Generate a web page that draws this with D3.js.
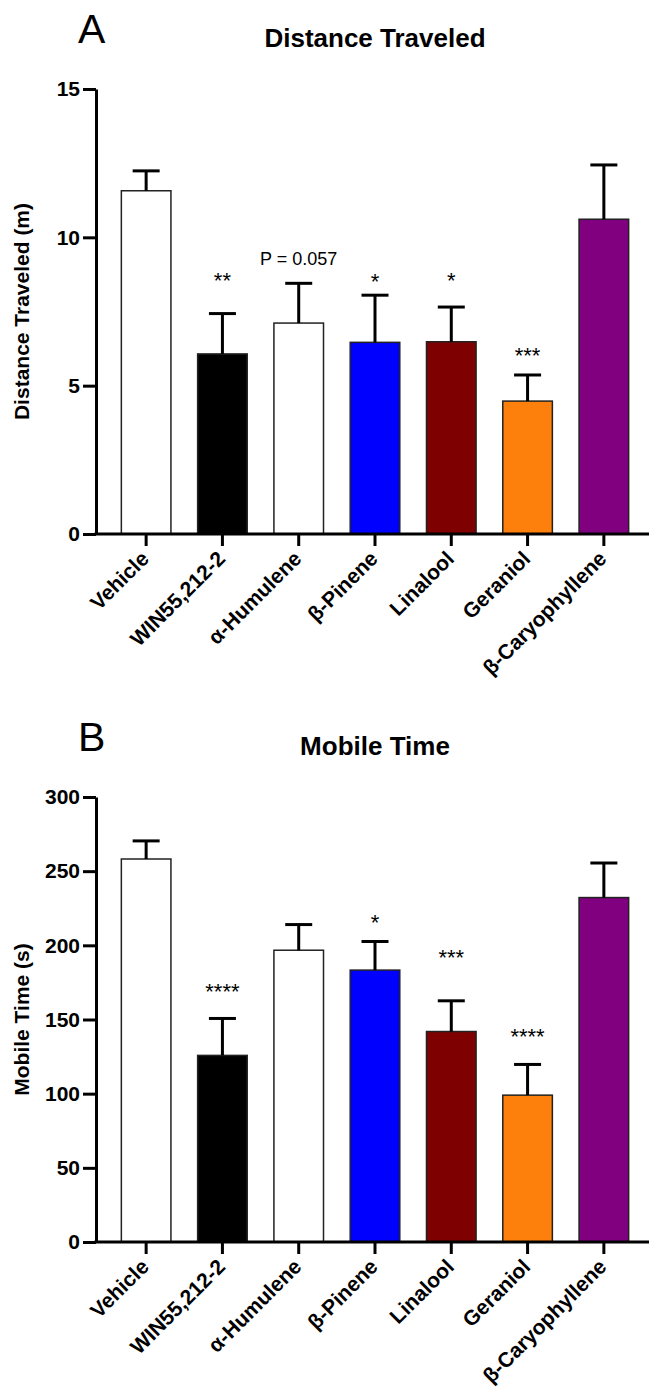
<!DOCTYPE html>
<html>
<head>
<meta charset="utf-8">
<script src="https://cdn.jsdelivr.net/npm/d3@7"></script>
<style>
  body { margin: 0; background: #fff; }
  svg { display: block; }
  text { font-family: "Liberation Sans", Arial, Helvetica, sans-serif; fill: #000; }
</style>
</head>
<body>
<svg id="fig" width="649" height="1399"></svg>
<script>
// Treatment groups, shared by both panels
const groups = ["Vehicle", "WIN55,212-2", "α-Humulene", "β-Pinene", "Linalool", "Geraniol", "β-Caryophyllene"];
const groupFills = ["#ffffff", "#000000", "#ffffff", "#0000ff", "#7f0000", "#fe800c", "#800080"];

// Panel A: distance traveled (m), mean and SEM
const distMean = [11.57, 6.07, 7.11, 6.46, 6.48, 4.48, 10.61];
const distSem  = [0.67, 1.36, 1.34, 1.59, 1.17, 0.88, 1.83];
const distTicks = [0, 5, 10, 15];
const distMarks = ["", "**", "P = 0.057", "*", "*", "***", ""];
const distMarkAt = [null, 8.28, 9.07, 8.25, 8.29, 5.75, null];

// Panel B: mobile time (s), mean and SEM
const mobMean = [258.2, 125.8, 196.7, 183.3, 141.9, 99.0, 232.2];
const mobSem  = [12.2, 24.9, 17.3, 19.3, 20.7, 20.7, 23.3];
const mobTicks = [0, 50, 100, 150, 200, 250, 300];
const mobMarks = ["", "****", "", "*", "***", "****", ""];
const mobMarkAt = [null, 164.0, null, 210.2, 186.5, 133.7, null];

const svg = d3.select("#fig");

function drawPanel(offsetY, letter, title, yTitle, means, sems, ticks, marks, markAt) {
  const g = svg.append("g").attr("transform", `translate(0,${offsetY})`);
  const axisX = 96, plotTop = 89, plotBottom = 534;

  const x = d3.scaleBand().domain(groups).range([108, 642])
    .paddingInner(0.35).paddingOuter(0.175);
  const y = d3.scaleLinear().domain([0, d3.max(ticks)]).range([plotBottom, plotTop]);

  // panel letter and title
  g.append("text").attr("x", 78).attr("y", 43)
    .style("font-size", "41px").style("font-weight", "normal").text(letter);
  g.append("text").attr("x", 375).attr("y", 47).attr("text-anchor", "middle")
    .style("font-size", "26px").style("font-weight", "bold").text(title);

  // y-axis title
  g.append("text").attr("transform", `translate(29,${(plotTop + plotBottom) / 2}) rotate(-90)`)
    .attr("text-anchor", "middle")
    .style("font-size", "21px").style("font-weight", "bold").text(yTitle);

  // bars
  g.append("g").selectAll("rect").data(groups).join("rect")
    .attr("x", d => x(d))
    .attr("width", x.bandwidth())
    .attr("y", (d, i) => y(means[i]))
    .attr("height", (d, i) => y(0) - y(means[i]))
    .attr("fill", (d, i) => groupFills[i])
    .attr("stroke", "#222")
    .attr("stroke-width", 1.5);

  // upper error bars
  const eb = g.append("g").attr("stroke", "#000").attr("stroke-width", 3).attr("fill", "none");
  groups.forEach((d, i) => {
    const cx = x(d) + x.bandwidth() / 2;
    eb.append("line").attr("x1", cx).attr("x2", cx)
      .attr("y1", y(means[i])).attr("y2", y(means[i] + sems[i]));
    eb.append("line").attr("x1", cx - 13.5).attr("x2", cx + 13.5)
      .attr("y1", y(means[i] + sems[i])).attr("y2", y(means[i] + sems[i]));
  });

  // significance labels
  const isP = s => s.startsWith("P");
  g.append("g").selectAll("text").data(groups).join("text")
    .filter((d, i) => marks[i] !== "")
    .attr("x", d => x(d) + x.bandwidth() / 2)
    .attr("y", d => y(markAt[groups.indexOf(d)]))
    .attr("text-anchor", "middle")
    .style("font-size", d => isP(marks[groups.indexOf(d)]) ? "18px" : "22px")
    .text(d => marks[groups.indexOf(d)]);

  // y axis
  const yAxis = g.append("g").attr("transform", `translate(${axisX},0)`)
    .call(d3.axisLeft(y).tickValues(ticks).tickSize(13).tickPadding(3).tickSizeOuter(0));
  yAxis.select(".domain").attr("stroke-width", 3).attr("stroke", "#000");
  yAxis.selectAll(".tick line").attr("stroke-width", 3).attr("stroke", "#000");
  yAxis.selectAll(".tick text")
    .style("font-size", "21px").style("font-weight", "bold").attr("fill", "#000");

  // x axis
  const xAxis = g.append("g").attr("transform", `translate(0,${y(0)})`)
    .call(d3.axisBottom(x).tickSize(12).tickSizeOuter(0));
  xAxis.select(".domain").remove();
  xAxis.selectAll(".tick line").attr("stroke-width", 3).attr("stroke", "#000");
  xAxis.selectAll(".tick text")
    .attr("x", null).attr("y", null).attr("dy", null)
    .attr("text-anchor", "end")
    .attr("transform", "translate(4,26) rotate(-45)")
    .style("font-size", "21px").style("font-weight", "bold").attr("fill", "#000");
  xAxis.append("line")
    .attr("x1", axisX - 1.5).attr("x2", 649)
    .attr("y1", 0).attr("y2", 0)
    .attr("stroke", "#000").attr("stroke-width", 3);
}

drawPanel(0, "A", "Distance Traveled", "Distance Traveled (m)",
  distMean, distSem, distTicks, distMarks, distMarkAt);
drawPanel(708, "B", "Mobile Time", "Mobile Time (s)",
  mobMean, mobSem, mobTicks, mobMarks, mobMarkAt);
</script>
</body>
</html>
